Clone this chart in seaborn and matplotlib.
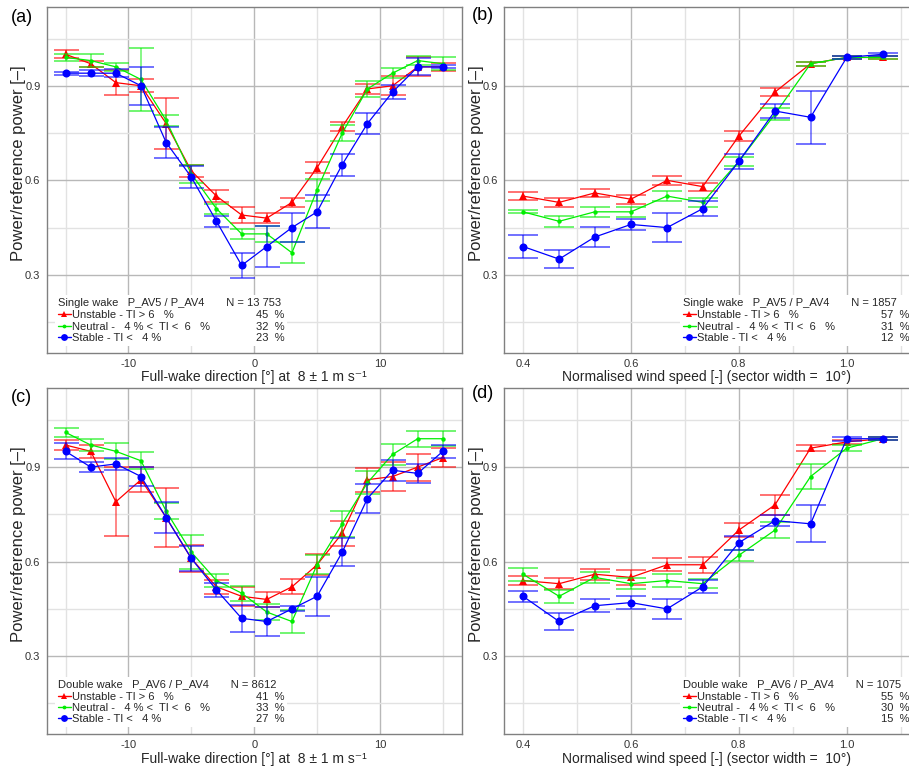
import numpy as np
import pandas as pd
import matplotlib
matplotlib.use("Agg")
import matplotlib.pyplot as plt
import seaborn as sns
from matplotlib.lines import Line2D

# ---------------- data ----------------
direction = [-15, -13, -11, -9, -7, -5, -3, -1, 1, 3, 5, 7, 9, 11, 13, 15]
speed = [0.400, 0.467, 0.533, 0.600, 0.667, 0.733, 0.800, 0.867, 0.933, 1.000, 1.067]

a_unstable = [1.00, 0.97, 0.91, 0.90, 0.78, 0.63, 0.55, 0.49, 0.48, 0.53, 0.64, 0.77, 0.89, 0.90, 0.96, 0.96]
a_unstable_err = [0.012, 0.01, 0.04, 0.02, 0.08, 0.02, 0.02, 0.025, 0.015, 0.015, 0.018, 0.015, 0.015, 0.03, 0.03, 0.012]
a_neutral = [0.99, 0.98, 0.96, 0.92, 0.79, 0.62, 0.51, 0.43, 0.43, 0.37, 0.57, 0.75, 0.89, 0.94, 0.98, 0.97]
a_neutral_err = [0.01, 0.02, 0.012, 0.10, 0.017, 0.03, 0.016, 0.015, 0.026, 0.033, 0.035, 0.025, 0.025, 0.015, 0.015, 0.02]
a_stable = [0.94, 0.94, 0.94, 0.90, 0.72, 0.61, 0.47, 0.33, 0.39, 0.45, 0.50, 0.65, 0.78, 0.88, 0.96, 0.96]
a_stable_err = [0.005, 0.01, 0.012, 0.06, 0.048, 0.034, 0.018, 0.04, 0.065, 0.045, 0.052, 0.035, 0.033, 0.023, 0.027, 0.005]

b_unstable = [0.55, 0.53, 0.56, 0.54, 0.60, 0.58, 0.74, 0.88, 0.97, 0.99, 0.99]
b_unstable_err = [0.012, 0.015, 0.013, 0.014, 0.014, 0.013, 0.016, 0.014, 0.006, 0.005, 0.005]
b_neutral = [0.50, 0.47, 0.50, 0.50, 0.55, 0.53, 0.66, 0.81, 0.97, 0.99, 0.99]
b_neutral_err = [0.005, 0.018, 0.016, 0.016, 0.016, 0.014, 0.015, 0.02, 0.006, 0.004, 0.004]
b_stable = [0.39, 0.35, 0.42, 0.46, 0.45, 0.51, 0.66, 0.82, 0.80, 0.99, 1.00]
b_stable_err = [0.038, 0.028, 0.033, 0.018, 0.045, 0.024, 0.024, 0.023, 0.084, 0.005, 0.005]

c_unstable = [0.97, 0.95, 0.79, 0.86, 0.74, 0.61, 0.52, 0.49, 0.48, 0.52, 0.59, 0.69, 0.86, 0.87, 0.90, 0.93]
c_unstable_err = [0.015, 0.02, 0.11, 0.04, 0.095, 0.043, 0.023, 0.03, 0.023, 0.024, 0.033, 0.04, 0.038, 0.047, 0.043, 0.03]
c_neutral = [1.01, 0.97, 0.95, 0.92, 0.76, 0.63, 0.54, 0.50, 0.44, 0.41, 0.59, 0.72, 0.85, 0.94, 0.99, 0.99]
c_neutral_err = [0.015, 0.02, 0.025, 0.027, 0.025, 0.053, 0.02, 0.024, 0.026, 0.036, 0.03, 0.042, 0.037, 0.033, 0.026, 0.024]
c_stable = [0.95, 0.90, 0.91, 0.87, 0.74, 0.61, 0.51, 0.42, 0.41, 0.45, 0.49, 0.63, 0.80, 0.89, 0.88, 0.95]
c_stable_err = [0.025, 0.017, 0.018, 0.03, 0.048, 0.04, 0.023, 0.042, 0.045, 0.008, 0.062, 0.044, 0.047, 0.033, 0.03, 0.02]

d_unstable = [0.54, 0.53, 0.56, 0.55, 0.59, 0.59, 0.70, 0.78, 0.96, 0.98, 0.99]
d_unstable_err = [0.013, 0.017, 0.018, 0.025, 0.02, 0.025, 0.021, 0.031, 0.01, 0.007, 0.004]
d_neutral = [0.56, 0.49, 0.55, 0.53, 0.54, 0.53, 0.62, 0.70, 0.87, 0.96, 0.99]
d_neutral_err = [0.02, 0.021, 0.017, 0.018, 0.02, 0.015, 0.017, 0.025, 0.04, 0.01, 0.004]
d_stable = [0.49, 0.41, 0.46, 0.47, 0.45, 0.52, 0.66, 0.73, 0.72, 0.99, 0.99]
d_stable_err = [0.018, 0.028, 0.021, 0.02, 0.031, 0.021, 0.022, 0.017, 0.059, 0.007, 0.004]

class_labels = ["Unstable - TI > 6   %", "Neutral -   4 % <  TI <  6   %", "Stable - TI <   4 %"]
headers = ["Single wake   P_AV5 / P_AV4       N = 13 753",
           "Single wake   P_AV5 / P_AV4       N = 1857",
           "Double wake   P_AV6 / P_AV4       N = 8612",
           "Double wake   P_AV6 / P_AV4       N = 1075"]
pct_a = [45, 32, 23]
pct_b = [57, 31, 12]
pct_c = [41, 33, 27]
pct_d = [55, 30, 15]
panel_tags = ["(a)", "(b)", "(c)", "(d)"]
xlabel_dir = "Full-wake direction [°] at  8 ± 1 m s⁻¹"
xlabel_spd = "Normalised wind speed [-] (sector width =  10°)"
ylabel = "Power/reference power [–]"

# ---------------- style ----------------
sns.set_theme(style="white")
plt.rcParams["font.family"] = ["Liberation Sans", "DejaVu Sans"]
plt.rcParams["axes.unicode_minus"] = False

colors = ["#ff0000", "#00ee00", "#0000ff"]
markers = ["^", "o", "o"]
msizes = [5.8, 3.2, 5.8]
MAJ = "#b8b8b8"
MIN = "#e2e2e2"

W, H = 909, 767
fig = plt.figure(figsize=(W / 100, H / 100), dpi=100)

def fx(px):
    return px / W

def fy(py):
    return 1 - py / H

# axes boxes in pixels: left, top, right, bottom
boxes = {
    "a": (46.7, 7.0, 461.7, 352.7),
    "b": (504.3, 7.0, 909.0, 352.7),
    "c": (46.7, 388.3, 461.7, 734.0),
    "d": (504.3, 388.3, 909.0, 734.0),
}

panels = [
    ("a", direction, [a_unstable, a_neutral, a_stable], [a_unstable_err, a_neutral_err, a_stable_err], pct_a, headers[0], "dir"),
    ("b", speed, [b_unstable, b_neutral, b_stable], [b_unstable_err, b_neutral_err, b_stable_err], pct_b, headers[1], "spd"),
    ("c", direction, [c_unstable, c_neutral, c_stable], [c_unstable_err, c_neutral_err, c_stable_err], pct_c, headers[2], "dir"),
    ("d", speed, [d_unstable, d_neutral, d_stable], [d_unstable_err, d_neutral_err, d_stable_err], pct_d, headers[3], "spd"),
]

for i, (key, xs, series, errs, pcts, header, kind) in enumerate(panels):
    l, t, r, b = boxes[key]
    aw, ah = r - l, b - t
    ax = fig.add_axes([fx(l), fy(b), aw / W, ah / H])
    for j in range(3):
        df = pd.DataFrame({"x": xs, "y": series[j]})
        ax.errorbar(xs, series[j], yerr=errs[j], fmt="none", ecolor=colors[j],
                    alpha=0.6, elinewidth=1.1, capsize=9 if kind == "dir" else 11,
                    capthick=1.3, zorder=3 + j)
        sns.lineplot(data=df, x="x", y="y", ax=ax, color=colors[j], marker=markers[j],
                     markersize=msizes[j], markeredgewidth=0, linewidth=0.9,
                     errorbar=None, zorder=4 + j, legend=False)

    ax.set_ylim(0.053, 1.15)
    ax.set_yticks([0.3, 0.6, 0.9])
    ax.set_yticks([0.15, 0.45, 0.75, 1.05], minor=True)
    if kind == "dir":
        ax.set_xlim(-16.5, 16.5)
        ax.set_xticks([-10, 0, 10])
        ax.set_xticks([-15, -5, 5, 15], minor=True)
        ax.set_xlabel(xlabel_dir, fontsize=10, labelpad=1)
    else:
        ax.set_xlim(0.3654, 1.1154)
        ax.set_xticks([0.4, 0.6, 0.8, 1.0])
        ax.set_xticks([0.5, 0.7, 0.9, 1.1], minor=True)
        ax.set_xticklabels(["0.4", "0.6", "0.8", "1.0"])
        ax.set_xlabel(xlabel_spd, fontsize=10, labelpad=1)
    ax.set_ylabel(ylabel, fontsize=12)
    # label: right edge ~20 px left of the axes, centred ~17 px above axes centre
    ax.yaxis.set_label_coords(-20.5 / aw, (ah / 2 + 17) / ah)

    ax.grid(True, which="major", color=MAJ, linewidth=1.0)
    ax.grid(True, which="minor", color=MIN, linewidth=1.0)
    ax.set_axisbelow(True)
    if kind == "spd":
        ax.xaxis.get_major_ticks()[0].gridline.set_color(MIN)
    ax.tick_params(axis="both", which="major", direction="out", length=3, width=0.8,
                   color="#555555", labelsize=8, labelcolor="#333333", pad=1.5)
    ax.tick_params(axis="both", which="minor", length=0)
    for name, sp in ax.spines.items():
        sp.set_color("#808080")
        sp.set_linewidth(1.0)
    if kind == "spd":
        ax.spines["right"].set_visible(False)

    handles = [Line2D([], [], color=colors[j], marker=markers[j], markersize=msizes[j] * 0.85,
                      markeredgewidth=0, linewidth=1.0) for j in range(3)]
    blanks = [Line2D([], [], linestyle="none") for _ in range(3)]
    labels = class_labels + [f"{p}  %" for p in pcts]
    anchor_x = (55 - l) / aw if kind == "dir" else (680 - l) / aw
    leg = ax.legend(handles + blanks, labels, ncol=2, loc="lower left",
                    bbox_to_anchor=(anchor_x, 0.02), fontsize=8, title=header,
                    title_fontsize=8, alignment="left", frameon=True,
                    framealpha=1.0, edgecolor="none", fancybox=False,
                    handlelength=1.15, handletextpad=0.15, columnspacing=2.8,
                    labelspacing=0.12, borderpad=0.25, borderaxespad=0.0)
    leg.set_zorder(10)
    leg._legend_box.sep = 1.5

tag_pos = [(11, 17), (472, 16), (11, 397), (472, 393)]
for tg, (px, py) in zip(panel_tags, tag_pos):
    fig.text(fx(px), fy(py), tg, fontsize=13, ha="left", va="center", color="black")

fig.savefig("out.png", dpi=100)
